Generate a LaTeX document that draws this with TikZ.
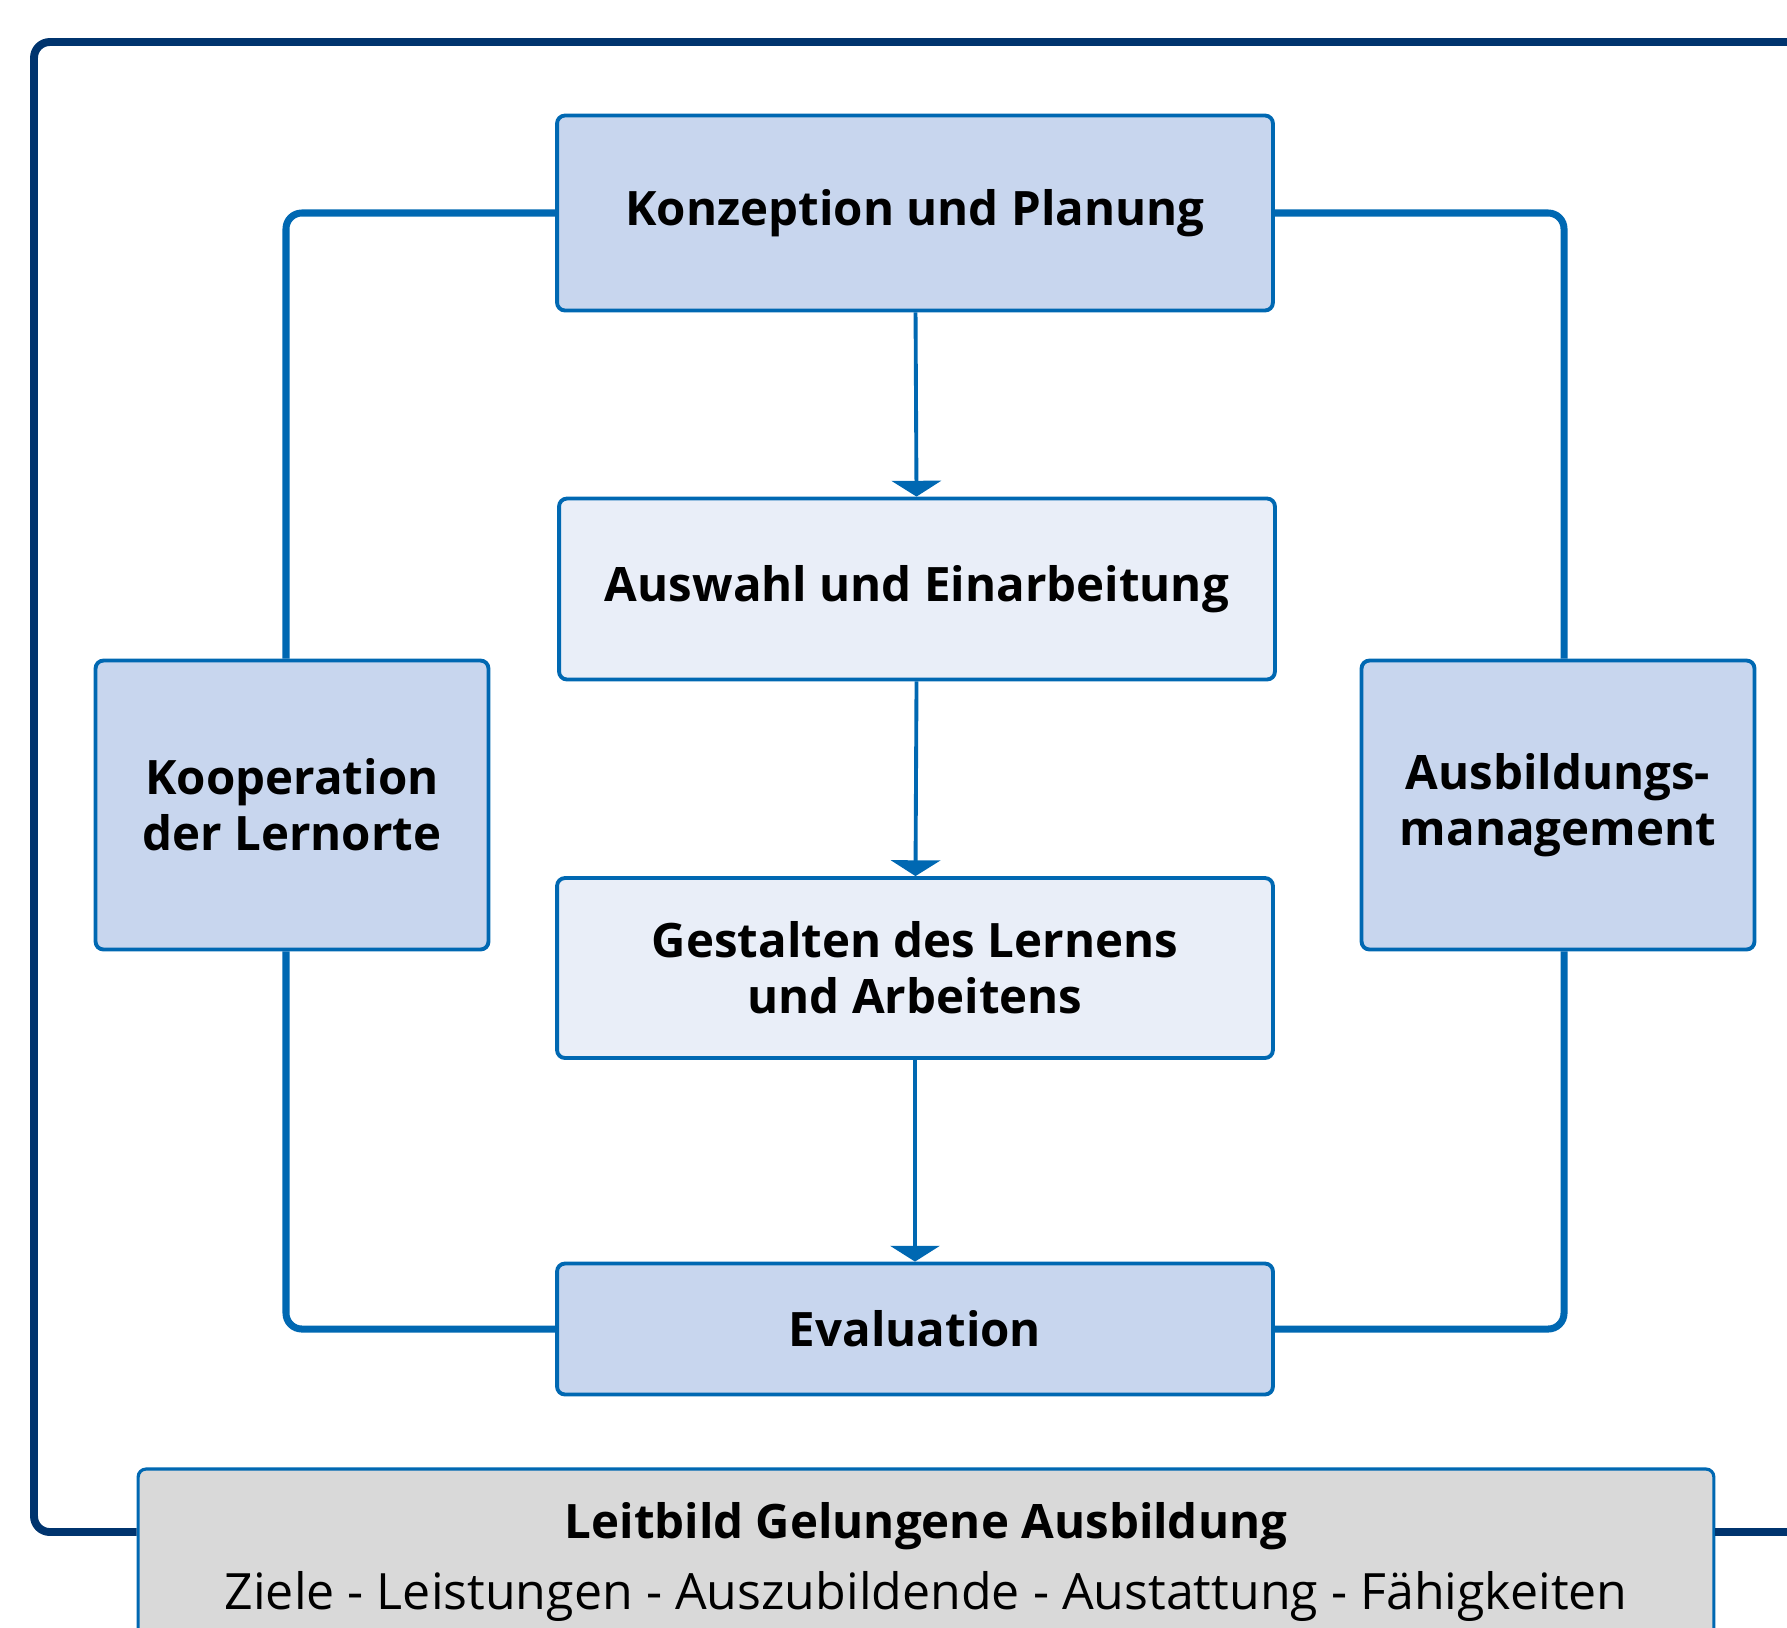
\documentclass[tikz,border=0pt]{standalone}
\usepackage{fontspec}
\setmainfont{Open Sans}
\usetikzlibrary{arrows.meta,positioning}
\definecolor{framenavy}{RGB}{0,52,110}
\definecolor{linkblue}{RGB}{0,104,178}
\definecolor{boxdark}{RGB}{200,214,238}
\definecolor{boxlight}{RGB}{233,238,248}
\definecolor{leitgray}{RGB}{217,217,217}

\begin{document}
\begin{tikzpicture}[x=0.02cm, y=-0.02cm,
    box/.style={draw=linkblue, line width=2.2pt, rounded corners=4.5pt, minimum width=14.32cm, align=center, font=\fontsize{27}{32}\selectfont\bfseries},
    darkbox/.style={box, fill=boxdark},
    lightbox/.style={box, fill=boxlight},
    sidebox/.style={box, fill=boxdark, minimum width=7.86cm, minimum height=5.78cm},
    link/.style={draw=linkblue, line width=4pt, rounded corners=9pt},
    frame/.style={draw=framenavy, line width=4.5pt, rounded corners=9pt},
    arr/.style={-{Triangle[width=28pt,length=9pt]}, draw=linkblue, fill=linkblue, line width=2.2pt}
]
\useasboundingbox (0,0) rectangle (1787,1627);
\clip (0,0) rectangle (1787,1627);

\node[darkbox, minimum height=3.9cm] (konz) at (915,213) {Konzeption und Planung};
\node[lightbox, minimum height=3.62cm] (ausw) at (917,589) {Auswahl und Einarbeitung};
\node[lightbox, minimum height=3.6cm] (gest) at (915,968) {Gestalten des Lernens\\und Arbeitens};
\node[darkbox, minimum height=2.62cm] (eval) at (915,1329) {Evaluation};
\node[sidebox] (koop) at (292,805) {Kooperation\\der Lernorte};
\node[sidebox] (ausb) at (1558,805) {Ausbildungs-\\management};
\node[box, fill=leitgray, line width=1.8pt, minimum width=31.52cm, minimum height=3.72cm, font=\fontsize{28.5}{40}\selectfont] (leit) at (926,1562)
    {{\fontsize{27}{40}\selectfont\bfseries Leitbild Gelungene Ausbildung}\\Ziele - Leistungen - Auszubildende - Austattung - Fähigkeiten};

\coordinate (frameTR) at (1800,42);
\coordinate (frameBR) at (1800,1532);
\coordinate (frameBL) at (34,1532);

\draw[frame] (frameTR) -| (frameBL) -- (leit.west |- frameBL);
\draw[frame] (leit.east |- frameBR) -- (frameBR);

\draw[link] (konz.west) -| ([xshift=-0.12cm]koop.north);
\draw[link] ([xshift=-0.12cm]koop.south) |- (eval.west);
\draw[link] (konz.east) -| ([xshift=0.12cm]ausb.north);
\draw[link] ([xshift=0.12cm]ausb.south) |- (eval.east);

\draw[arr] (konz) -- (ausw);
\draw[arr] (ausw) -- (gest);
\draw[arr] (gest) -- (eval);
\end{tikzpicture}
\end{document}
